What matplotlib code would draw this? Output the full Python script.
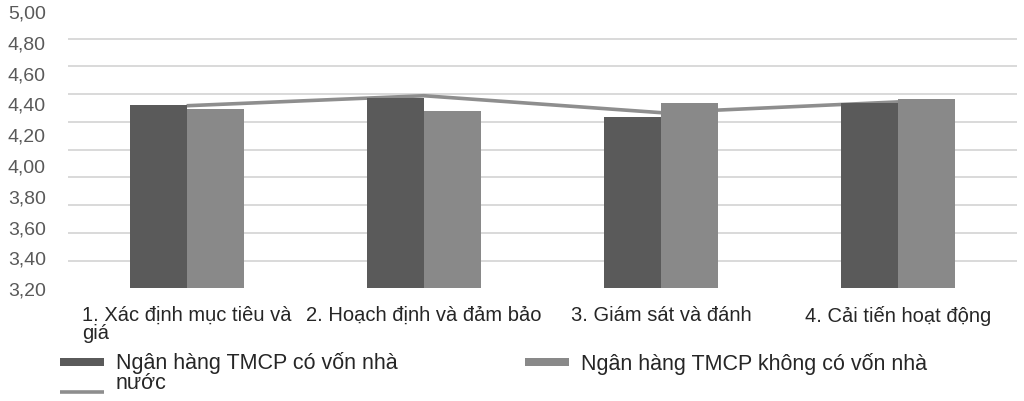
import numpy as np
import matplotlib
matplotlib.use("Agg")
import matplotlib.pyplot as plt
from matplotlib.patches import Rectangle
from matplotlib.lines import Line2D

plt.rcParams['font.family'] = ['Liberation Sans', 'DejaVu Sans']

categories = ['1. Xác định mục tiêu và\ngiá', '2. Hoạch định và đảm bảo',
              '3. Giám sát và đánh', '4. Cải tiến hoạt động']
state_banks = [4.39, 4.435, 4.315, 4.40]
private_banks = [4.365, 4.35, 4.40, 4.43]
all_banks = [4.385, 4.45, 4.34, 4.41]
series_names = ['Ngân hàng TMCP có vốn nhà\nnước', 'Ngân hàng TMCP không có vốn nhà']
ytick_values = [3.2, 3.4, 3.6, 3.8, 4.0, 4.2, 4.4, 4.6, 4.8, 5.0]
n_gridlines = 11

dark = '#5a5a5a'
light = '#898989'
line_col = '#8e8e8e'
text_col = '#595959'

W, H = 1024, 402
fig = plt.figure(figsize=(W / 100, H / 100), dpi=100)
ax = fig.add_axes([68 / W, 1 - 289.3 / H, (1017 - 68) / W, (289.3 - 12) / H])

x = np.arange(len(categories))
w = 0.24
ax.plot(x, all_banks, color=line_col, linewidth=2.6, zorder=2, solid_capstyle='butt')
ax.bar(x - w / 2, state_banks, w, color=dark, zorder=3)
ax.bar(x + w / 2, private_banks, w, color=light, zorder=3)

ax.set_xlim(-0.5, len(categories) - 0.5)
ax.set_ylim(3.2, 5.0)
ax.set_yticks(ytick_values)
ax.set_yticklabels([f'{v:.2f}'.replace('.', ',') for v in ytick_values])
ax.set_yticks(np.linspace(3.2, 5.0, n_gridlines), minor=True)
ax.yaxis.grid(True, which='minor', color='#d9d9d9', linewidth=1.4, zorder=0)
ax.yaxis.grid(False, which='major')
ax.set_axisbelow(True)
for s in ax.spines.values():
    s.set_visible(False)
ax.tick_params(axis='y', which='both', length=0, pad=16, labelsize=14, labelcolor=text_col)
ax.tick_params(axis='x', length=0, pad=12, labelsize=14.5, labelcolor='#262626')
ax.set_xticks(x)
ax.set_xticklabels(categories, multialignment='left')
for lab in ax.get_xticklabels():
    lab.set_linespacing(0.95)

# legend, laid out by hand to keep the handle on the first text line
def fx(px):
    return px / W

def fy(py):
    return 1 - py / H

fig.patches.append(Rectangle((fx(60), fy(366.5)), fx(44), 8 / H, transform=fig.transFigure,
                             facecolor=dark, edgecolor='none'))
fig.patches.append(Rectangle((fx(525), fy(366.5)), fx(44), 8 / H, transform=fig.transFigure,
                             facecolor=light, edgecolor='none'))
fig.lines.append(Line2D([fx(60), fx(104)], [fy(393), fy(393)], transform=fig.transFigure,
                        color=line_col, linewidth=2.6, solid_capstyle='butt'))
fig.text(fx(116), fy(389), series_names[0], fontsize=15.5, color='#262626',
         va='baseline', linespacing=0.92)
fig.text(fx(581), fy(370), series_names[1], fontsize=15.5, color='#262626',
         va='baseline')

fig.savefig('out.png', dpi=100)
